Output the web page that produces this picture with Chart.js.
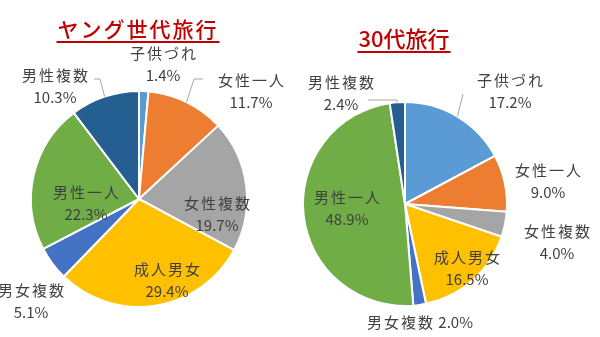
<!DOCTYPE html>
<html>
<head>
<meta charset="utf-8">
<script src="https://cdn.jsdelivr.net/npm/chart.js@4"></script>
<style>
  html, body { margin: 0; padding: 0; background: #fff; }
  #wrap { position: relative; width: 600px; height: 337px; }
  #wrap canvas { position: absolute; left: 0; top: 0; }
</style>
</head>
<body>
<div id="wrap">
  <canvas id="pie1" width="600" height="337"></canvas>
  <canvas id="pie2" width="600" height="337"></canvas>
</div>
<script>
// data
const categories = ['子供づれ', '女性一人', '女性複数', '成人男女', '男女複数', '男性一人', '男性複数'];
const youngValues = [1.4, 11.7, 19.7, 29.4, 5.1, 22.3, 10.3];
const thirtiesValues = [17.2, 9.0, 4.0, 16.5, 2.0, 48.9, 2.4];
const chartTitles = ['ヤング世代旅行', '30代旅行'];

const colors = ['#5B9BD5', '#ED7D31', '#A5A5A5', '#FFC000', '#4472C4', '#70AD47', '#255E91'];
const FONT = '"Noto Sans CJK JP", "Noto Sans", sans-serif';

// label placement, offsets from pie centre (px): [dx, dy, oneLine]
const leftLabelPos = [[24, -146], [112, -119], [78, 4], [28, 70], [-108, 91], [-53, -7], [-84, -124]];
const rightLabelPos = [[105, -124], [143, -34], [152, 27], [62, 53], [15, 118, true], [-58, -7], [-64, -122]];
// leader lines: points after the slice edge, offsets from centre
const leftLeaders = [null, [[55, -120], [64, -120]], null, null, null, null, [[-39, -120], [-45, -120]]];
const rightLeaders = [[[58, -110]], null, null, null, null, null, [[-8, -104], [-37, -104]]];

const labelPlugin = {
  id: 'sliceLabels',
  afterDatasetsDraw(chart, args, opts) {
    const ctx = chart.ctx;
    const arcs = chart.getDatasetMeta(0).data;
    const vals = chart.data.datasets[0].data;
    const cx = arcs[0].x, cy = arcs[0].y;
    ctx.save();

    // title with underline
    ctx.font = '500 ' + opts.titleSize + 'px ' + FONT;
    ctx.letterSpacing = opts.titleSpacing + 'px';
    ctx.fillStyle = '#C00000';
    ctx.textAlign = 'center';
    ctx.textBaseline = 'middle';
    ctx.fillText(opts.title, opts.titleX, opts.titleY);
    const tw = ctx.measureText(opts.title).width;
    ctx.fillRect(opts.titleX - tw / 2 - 1, opts.titleY + 12, tw + 2, 2);

    // leader lines
    ctx.strokeStyle = '#A6A6A6';
    ctx.lineWidth = 1;
    opts.leaders.forEach((pts, i) => {
      if (!pts) return;
      const a = arcs[i];
      const mid = (a.startAngle + a.endAngle) / 2;
      ctx.beginPath();
      ctx.moveTo(cx + Math.cos(mid) * a.outerRadius, cy + Math.sin(mid) * a.outerRadius);
      pts.forEach(p => ctx.lineTo(cx + p[0], cy + p[1]));
      ctx.stroke();
    });

    // labels
    ctx.font = '15px ' + FONT;
    ctx.fillStyle = '#404040';
    chart.data.labels.forEach((lab, i) => {
      const p = opts.pos[i];
      const txt = vals[i].toFixed(1) + '%';
      const x = cx + p[0], y = cy + p[1];
      if (p[2]) {
        ctx.letterSpacing = '2px';
        const nw = ctx.measureText(lab).width;
        ctx.letterSpacing = '0px';
        const pw = ctx.measureText(' ' + txt).width;
        const x0 = x - (nw + pw) / 2;
        ctx.textAlign = 'left';
        ctx.letterSpacing = '2px';
        ctx.fillText(lab, x0, y);
        ctx.letterSpacing = '0px';
        ctx.fillText(' ' + txt, x0 + nw, y);
        ctx.textAlign = 'center';
      } else {
        ctx.letterSpacing = '2px';
        ctx.fillText(lab, x + 1, y);
        ctx.letterSpacing = '0px';
        ctx.fillText(txt, x, y + 22);
      }
    });
    ctx.restore();
  }
};

function makePie(id, values, pad, labelOpts) {
  return new Chart(document.getElementById(id), {
    type: 'pie',
    data: {
      labels: categories,
      datasets: [{
        data: values,
        backgroundColor: colors,
        borderColor: '#ffffff',
        borderWidth: 2
      }]
    },
    options: {
      responsive: false,
      animation: false,
      layout: { padding: pad },
      plugins: {
        legend: { display: false },
        tooltip: { enabled: false },
        sliceLabels: labelOpts
      }
    },
    plugins: [labelPlugin]
  });
}

makePie('pie1', youngValues, { left: 30, right: 352, top: 90, bottom: 29 }, {
  title: chartTitles[0], titleX: 138, titleY: 29, titleSize: 21, titleSpacing: 2,
  pos: leftLabelPos, leaders: leftLeaders
});

makePie('pie2', thirtiesValues, { left: 302, right: 92, top: 101, bottom: 30 }, {
  title: chartTitles[1], titleX: 404, titleY: 39, titleSize: 22, titleSpacing: 0,
  pos: rightLabelPos, leaders: rightLeaders
});
</script>
</body>
</html>
